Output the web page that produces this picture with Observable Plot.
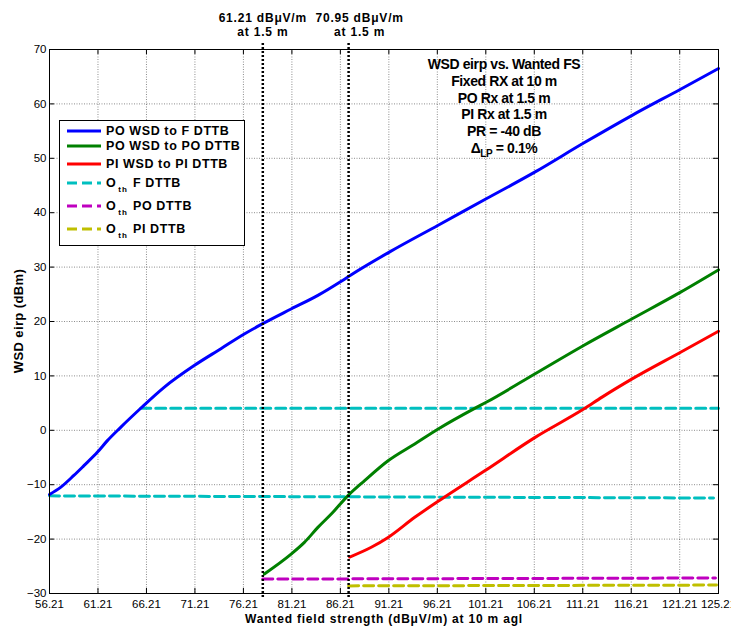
<!DOCTYPE html>
<html><head><meta charset="utf-8">
<script src="https://cdn.jsdelivr.net/npm/d3@7"></script>
<script src="https://cdn.jsdelivr.net/npm/@observablehq/plot@0.6"></script>
<style>
body{margin:0;background:#fff;}
#wrap{position:relative;width:731px;height:629px;font-family:"Liberation Sans",Arial,sans-serif;color:#000;}
#legend{position:absolute;left:59px;top:120px;width:184px;height:124px;border:1px solid #000;background:#fff;}
.row{position:absolute;left:0;height:16px;width:184px;font-weight:bold;font-size:12.5px;letter-spacing:0.6px;white-space:nowrap;line-height:16px;}
.row svg{position:absolute;left:7px;top:0;}
.row .lbl{position:absolute;left:46px;top:0;}
.sub{font-size:8px;position:relative;top:5px;margin-left:2px;margin-right:1px;letter-spacing:1px;}
#note{position:absolute;left:404px;top:56px;width:200px;text-align:center;font-weight:bold;font-size:14px;letter-spacing:-0.4px;line-height:16.8px;}
#note .s2{font-size:10px;position:relative;top:4px;}
#ylab{position:absolute;left:-81.5px;top:312.5px;width:200px;height:16px;line-height:16px;text-align:center;transform:rotate(-90deg);font-weight:bold;font-size:13px;letter-spacing:0.4px;}
</style>
</head><body>
<div id="wrap"></div>
<script>
// ---- data ----
const xTicks = [56.21, 61.21, 66.21, 71.21, 76.21, 81.21, 86.21, 91.21, 96.21, 101.21, 106.21, 111.21, 116.21, 121.21, 125.21];
const yTicks = [-30, -20, -10, 0, 10, 20, 30, 40, 50, 60, 70];

const seriesNames = ["PO WSD to F DTTB", "PO WSD to PO DTTB", "PI WSD to PI DTTB", "F DTTB", "PO DTTB", "PI DTTB"];
const seriesColors = ["#0000ff", "#008000", "#ff0000", "#00bfbf", "#bf00bf", "#bfbf00"];

const blueX = [56.21, 57.35, 58.72, 59.76, 61.14, 62.18, 63.55, 65.62, 68.03, 71.13, 73.89, 76.3, 78.2, 81.13, 83.89, 86.3, 87.34, 91.3, 96.3, 101.3, 106.3, 111.3, 116.3, 121.3, 125.21];
const blueY = [-11.8, -10.5, -8.3, -6.5, -4.05, -1.9, 0.55, 4.05, 7.9, 11.9, 15.0, 17.7, 19.6, 22.3, 24.8, 27.4, 28.6, 32.8, 37.7, 42.6, 47.5, 52.8, 57.9, 62.7, 66.5];

const greenX = [78.37, 81.13, 82.5, 83.89, 85.27, 87.0, 88.71, 91.13, 93.88, 96.3, 99.92, 101.3, 106.3, 111.3, 116.3, 121.3, 125.21];
const greenY = [-26.4, -22.75, -20.6, -17.85, -15.4, -12.0, -9.25, -5.6, -2.5, 0.25, 3.9, 5.2, 10.4, 15.6, 20.5, 25.4, 29.5];

const redX = [87.17, 89.4, 91.13, 93.88, 96.5, 101.1, 106.3, 111.3, 113.2, 116.3, 121.3, 125.21];
const redY = [-23.3, -21.5, -19.7, -16.0, -12.8, -7.45, -1.3, 3.9, 6.1, 9.45, 14.35, 18.2];

const cyanUpperX = [65.62, 125.21];
const cyanUpperY = [4.05, 4.05];
const cyanLowerX = [56.21, 124.7];
const cyanLowerY = [-12.05, -12.45];
const magentaX = [78.21, 124.9];
const magentaY = [-27.35, -27.15];
const yellowX = [87.06, 125.0];
const yellowY = [-28.6, -28.45];

const markerX = [78.21, 87.06];
const markerLabels = ["61.21 dBμV/m\nat 1.5 m", "70.95 dBμV/m\nat 1.5 m"];

const xLabel = "Wanted field strength (dBμV/m) at 10 m agl";
const yLabel = "WSD eirp (dBm)";
const noteLines = ["WSD eirp vs. Wanted FS", "Fixed RX at 10 m", "PO Rx at 1.5 m", "PI Rx at 1.5 m", "PR = -40 dB"];

// ---- build ----
const pts = (X, Y) => X.map((x, i) => ({x, y: Y[i]}));
const W = 731, H = 629, mL = 49, mR = 13, mT = 49, mB = 36;
const fw = W - mL - mR, fh = H - mT - mB;
const grid = {stroke: "#000", strokeOpacity: 0.45, strokeDasharray: "1,1.5"};
const solid = (X, Y, c) => Plot.line(pts(X, Y), {x: "x", y: "y", stroke: c, strokeWidth: 3, curve: "monotone-x"});
const dashed = (X, Y, c) => Plot.line(pts(X, Y), {x: "x", y: "y", stroke: c, strokeWidth: 3, strokeDasharray: "10,5"});

const chart = Plot.plot({
  width: W, height: H,
  marginLeft: mL, marginRight: mR, marginTop: mT, marginBottom: mB,
  x: {domain: [56.21, 125.21]},
  y: {domain: [-30, 70]},
  style: {fontFamily: "'Liberation Sans', Arial, sans-serif", fontSize: "11.5px", color: "#000", background: "#fff", overflow: "hidden"},
  marks: [
    Plot.gridX({ticks: xTicks, ...grid}),
    Plot.gridY({ticks: yTicks, ...grid}),
    dashed(cyanUpperX, cyanUpperY, seriesColors[3]),
    dashed(cyanLowerX, cyanLowerY, seriesColors[3]),
    dashed(magentaX, magentaY, seriesColors[4]),
    dashed(yellowX, yellowY, seriesColors[5]),
    solid(blueX, blueY, seriesColors[0]),
    solid(greenX, greenY, seriesColors[1]),
    solid(redX, redY, seriesColors[2]),
    Plot.ruleX(markerX, {stroke: "#000", strokeWidth: 2.5, strokeDasharray: "2,2", insetTop: -6, insetBottom: -4}),
    Plot.frame({stroke: "#000"}),
    Plot.ruleX(xTicks, {stroke: "#000", insetTop: fh - 5}),
    Plot.ruleX(xTicks, {stroke: "#000", insetBottom: fh - 5}),
    Plot.ruleY(yTicks, {stroke: "#000", insetRight: fw - 5}),
    Plot.ruleY(yTicks, {stroke: "#000", insetLeft: fw - 5}),
    Plot.axisX({ticks: xTicks, tickSize: 0, tickPadding: 6, fontSize: 11.5, tickFormat: d => d.toFixed(2), label: null}),
    Plot.axisY({ticks: yTicks, tickSize: 0, tickPadding: 3, fontSize: 11.5, label: null}),
    Plot.text([markerLabels[0]], {x: [markerX[0]], text: d => d, frameAnchor: "top", lineAnchor: "bottom", dy: -14, fontWeight: "bold", fontSize: 12, lineHeight: 1.1}),
    Plot.text([markerLabels[1]], {x: [markerX[1]], text: d => d, frameAnchor: "top", lineAnchor: "bottom", dy: -14, dx: 11, fontWeight: "bold", fontSize: 12, lineHeight: 1.1}),
    Plot.text([xLabel], {text: d => d, frameAnchor: "bottom", dy: 29, fontWeight: "bold", fontSize: 12})
  ]
});
d3.select(chart).selectAll("g[aria-label='text'] text").style("letter-spacing", "0.8px");

const wrap = document.getElementById("wrap");
wrap.appendChild(chart);

// legend
const legend = document.createElement("div");
legend.id = "legend";
const rowCenters = [10, 25, 43, 61.5, 85, 108];
seriesNames.forEach((name, i) => {
  const row = document.createElement("div");
  row.className = "row";
  row.style.top = (rowCenters[i] - 8) + "px";
  const dash = i >= 3 ? ' stroke-dasharray="10,5"' : '';
  const label = i >= 3 ? `O<span class="sub">th</span> ${name}` : name;
  row.innerHTML = `<svg width="36" height="16"><line x1="0" y1="8" x2="34" y2="8" stroke="${seriesColors[i]}" stroke-width="3"${dash}/></svg><span class="lbl">${label}</span>`;
  legend.appendChild(row);
});
wrap.appendChild(legend);

// annotation
const note = document.createElement("div");
note.id = "note";
note.innerHTML = noteLines.map(t => `<div>${t}</div>`).join("") + `<div>Δ<span class="s2">LP</span> = 0.1%</div>`;
wrap.appendChild(note);

// y label
const yl = document.createElement("div");
yl.id = "ylab";
yl.textContent = yLabel;
wrap.appendChild(yl);
</script>
</body></html>
